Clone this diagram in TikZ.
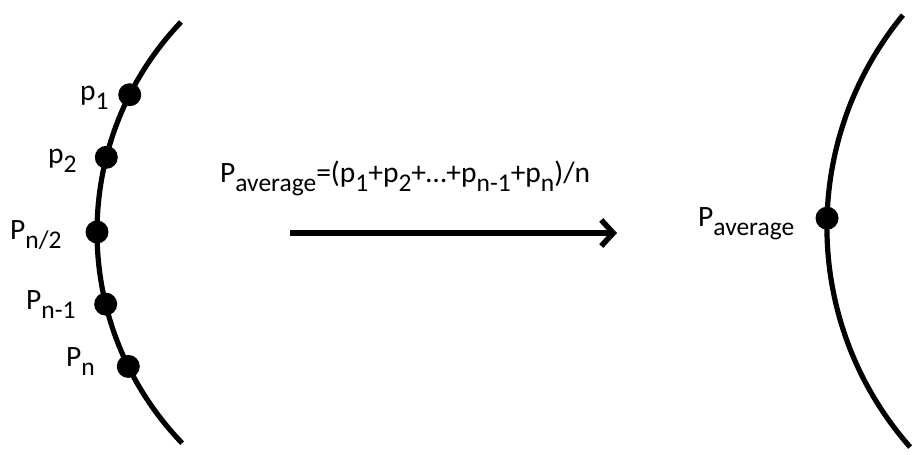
\documentclass[tikz,border=0pt]{standalone}
\usepackage{fontspec}
\setmainfont{Carlito}
\usetikzlibrary{arrows.meta}
\newcommand{\sbx}[1]{\raisebox{-8.5pt}{\fontsize{25.5}{25.5}\selectfont #1}}
\tikzset{
  curve/.style={line width=5.2pt},
  dot/.style={circle,fill=black,inner sep=0pt,minimum size=23pt},
  lbl/.style={anchor=base west,inner sep=0pt,font=\fontsize{29.5}{33}\selectfont},
  arr/.style={line width=5.5pt,-{Straight Barb[length=12pt,width=26pt]}}
}
\begin{document}
\begin{tikzpicture}[x=1pt,y=1pt]
\useasboundingbox (0,0) rectangle (913,455);
% left arc
\coordinate (cL) at (401.5,223);
\draw[curve] ([shift={(136.4:304.5)}]cL) arc[start angle=136.4,end angle=223.9,radius=304.5];
\node[dot] (p1) at ([shift={(153.2:304.5)}]cL) {};
\node[dot] (p2) at ([shift={(165.8:304.5)}]cL) {};
\node[dot] (pm) at ([shift={(180:304.5)}]cL) {};
\node[dot] (pn1) at ([shift={(193.7:304.5)}]cL) {};
\node[dot] (pn) at ([shift={(206.2:304.5)}]cL) {};
\node[lbl] (l1) at (80,354) {p\sbx{1}};
\node[lbl] (l2) at (48,291) {p\sbx{2}};
\node[lbl] (lm) at (10,215) {P\sbx{n/2}};
\node[lbl] (ln1) at (26,145) {P\sbx{n-1}};
\node[lbl] (ln) at (66,88) {P\sbx{n}};
% formula and arrow
\node[lbl] (f) at (220,272) {P\sbx{average}=(p\sbx{1}+p\sbx{2}+…+p\sbx{n-1}+p\sbx{n})/n};
\coordinate (a1) at (290,222);
\coordinate (a2) at (617,222);
\draw[arr] (a1) -- (a2);
% right arc
\coordinate (cR) at (1159.9,228.1);
\draw[curve] ([shift={(140.5:333)}]cR) arc[start angle=140.5,end angle=221.4,radius=333];
\node[dot] (pa) at ([shift={(178.5:333)}]cR) {};
\node[lbl] (la) at (698,228) {P\sbx{average}};
\end{tikzpicture}
\end{document}
